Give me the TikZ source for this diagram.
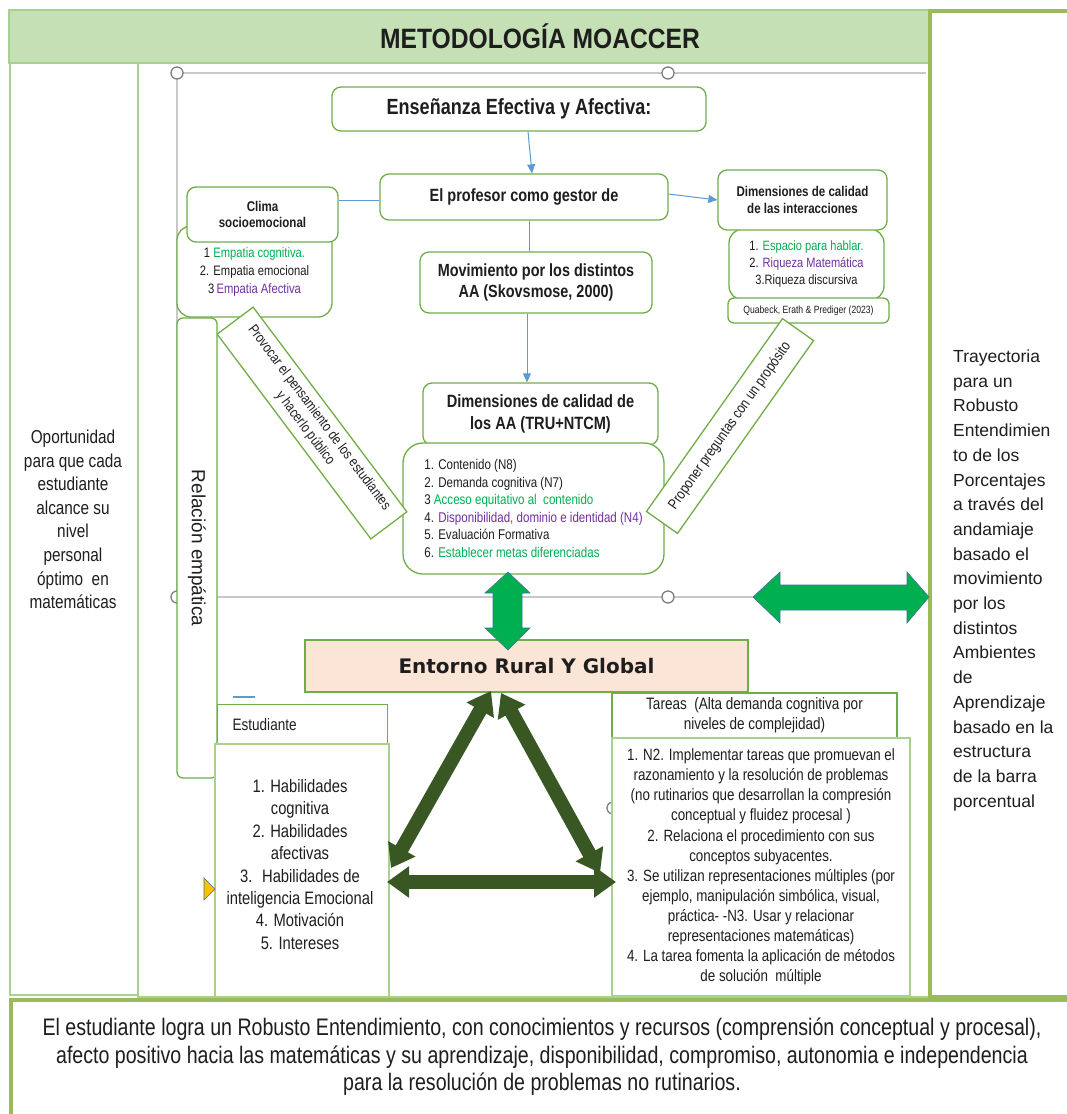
\documentclass[tikz,border=0pt]{standalone}
\usepackage{fontspec}
\setmainfont{Liberation Sans}
\newfontfamily\nar[FakeStretch=0.82]{Liberation Sans}
\newfontfamily\ttl[FakeStretch=0.88]{Liberation Sans}
\newfontfamily\verd{DejaVu Sans}
\usetikzlibrary{arrows.meta,calc}

\definecolor{ink}{HTML}{1E1E1E}
\definecolor{boxgreen}{HTML}{70AD47}
\definecolor{softgreen}{HTML}{A9D18E}
\definecolor{titlefill}{HTML}{C5E0B4}
\definecolor{olivegreen}{HTML}{9BBB59}
\definecolor{peach}{HTML}{FBE5D6}
\definecolor{brightgreen}{HTML}{00B050}
\definecolor{deepgreen}{HTML}{385723}
\definecolor{skyblue}{HTML}{5B9BD5}
\definecolor{edgeblue}{HTML}{41719C}
\definecolor{handlegray}{HTML}{C8C8C8}
\definecolor{knobgray}{HTML}{808080}
\definecolor{txtgreen}{HTML}{00B050}
\definecolor{txtpurple}{HTML}{7030A0}
\definecolor{amber}{HTML}{FFC000}

\newcommand\setfs[2]{\fontsize{#1}{#2}\selectfont}
\newcommand\ingreen[1]{\textcolor{txtgreen}{#1}}
\newcommand\inpurple[1]{\textcolor{txtpurple}{#1}}

\tikzset{
  every node/.style={inner sep=0pt, text=ink},
  rbox/.style={draw=boxgreen, line width=1.3pt, fill=white, rounded corners=9pt},
  sqbox/.style={draw=boxgreen, line width=1.3pt, fill=white},
  palebox/.style={draw=softgreen, line width=1.3pt, fill=white},
  paleframe/.style={draw=softgreen, line width=1.3pt},
  heavyframe/.style={draw=olivegreen, line width=4.5pt, fill=white},
  handle/.style={draw=handlegray, line width=1.6pt},
  knob/.style={circle, draw=knobgray, line width=1.3pt, fill=white, minimum size=12pt},
  flow/.style={draw=skyblue, line width=1pt},
  flowarrow/.style={flow, -{Triangle[length=9pt,width=8pt]}},
  bigarrow/.style={fill=brightgreen, draw=edgeblue, line width=0.6pt},
  linkarrow/.style={draw=deepgreen, line width=14pt,
    {Triangle[length=22pt,width=30pt]}-{Triangle[length=22pt,width=30pt]}},
}

\begin{document}
\begin{tikzpicture}[x=1pt,y=-1pt]
\useasboundingbox (0,0) rectangle (1067,1114);
\fill[white] (0,0) rectangle (1067,1114);

% frame of the central area and title bar
\node[paleframe, minimum width=792, minimum height=934] (stage) at (534,530) {};
\node[draw=softgreen, line width=1.5pt, fill=titlefill, minimum width=1062, minimum height=53,
      font=\ttl\bfseries\setfs{28}{30}] (title) at (540,36.5) {METODOLOGÍA MOACCER};

% left column
\node[paleframe, minimum width=128, minimum height=932] (opbox) at (74,529) {};
\node[font=\nar\setfs{18.7}{23.6}, align=center] (optext) at (73,519.5)
  {Oportunidad\\para que cada\\estudiante\\alcance su\\nivel\\personal\\óptimo~ en\\matemáticas};

% selection handles
\draw[handle] (177,73) -- (926,73);
\draw[handle] (177,73) -- (177,600);
\draw[handle] (177,597) -- (755,597);
\node[knob] (k1) at (177,73) {};
\node[knob] (k2) at (668,73) {};
\node[knob] (k3) at (177,597) {};
\node[knob] (k4) at (668,597) {};
\node[knob] (k5) at (613,808) {};

% upper blocks
\node[rbox, rounded corners=14pt, minimum width=155, minimum height=91, align=center,
      font=\nar\setfs{13.7}{18}] (climalist) at (254.5,271.5)
  {1 \ingreen{Empatia cognitiva.}\\2. Empatia emocional\\3\,\inpurple{Empatia Afectiva}};
\node[rbox, minimum width=151, minimum height=55, align=center,
      font=\nar\bfseries\setfs{14.1}{16.5}] (clima) at (262.5,214.5) {Clima\\socioemocional};

\node[rbox, rounded corners=14pt, minimum width=155, minimum height=71, align=center,
      font=\nar\setfs{13.5}{17}] (interlist) at (806.5,264.5)
  {1. \ingreen{Espacio para hablar.}\\2. \inpurple{Riqueza Matemática}\\3.Riqueza discursiva};
\node[rbox, minimum width=169, minimum height=60, align=center,
      font=\nar\bfseries\setfs{14.1}{17}] (diminter) at (802.5,200) {Dimensiones de calidad\\de las interacciones};
\node[rbox, rounded corners=6pt, minimum width=161, minimum height=25,
      font=\nar\setfs{10.5}{12}] (quabeck) at (808.5,310.5) {Quabeck, Erath \& Prediger (2023)};

\node[rbox, minimum width=374, minimum height=44, font=\nar\bfseries\setfs{22}{24}] (ens) at (519,109)
  {Enseñanza Efectiva y Afectiva:};
\node[rbox, minimum width=288, minimum height=46, font=\nar\bfseries\setfs{17.7}{20}] (prof) at (524,197)
  {El profesor como gestor de};
\node[rbox, minimum width=232, minimum height=61, align=center,
      font=\nar\bfseries\setfs{17.6}{21}] (mov) at (536,282.5) {Movimiento por los distintos\\AA (Skovsmose, 2000)};
\node[rbox, minimum width=235, minimum height=62, align=center,
      font=\nar\bfseries\setfs{17.8}{22}] (dimaa) at (540.5,414) {Dimensiones de calidad de\\los AA (TRU+NTCM)};
\node[rbox, rounded corners=20pt, minimum width=261, minimum height=131, align=left,
      font=\nar\setfs{14.1}{17.6}] (aalist) at (533.5,508.5)
  {1. Contenido (N8)\\2. Demanda cognitiva (N7)\\3 \ingreen{Acceso equitativo al~ contenido}\\
   4. \inpurple{Disponibilidad, dominio e identidad (N4)}\\5. Evaluación Formativa\\
   6. \ingreen{Establecer metas diferenciadas}};

% connectors of the upper chain
\draw[flowarrow] ($(ens.south)+(9,0)$) -- ($(prof.north)+(8,0)$);
\draw[flow] ($(prof.south)+(5,0)$) -- ($(mov.north)+(-7,0)$);
\draw[flowarrow] ($(mov.south)+(-9,0)$) -- ($(dimaa.north)+(-13.5,0)$);
\draw[flowarrow] ($(prof.east)+(0,-3)$) -- (diminter.west);
\draw[flow] ($(prof.west)+(0,3)$) -- ($(prof.west -| clima.east)+(0,3)$);

% slanted practice boxes and the side band
\node[sqbox, rotate=-53.1, minimum width=256, minimum height=45, align=center,
      font=\nar\setfs{14.3}{17.5}] (provocar) at (312,423)
  {Provocar el pensamiento de los estudiantes\\y hacerlo público};
\node[sqbox, rotate=54.8, minimum width=236, minimum height=38,
      font=\nar\setfs{14.8}{16}] (proponer) at (730,426) {Proponer preguntas con un propósito};
\node[rbox, rounded corners=6pt, rotate=-90, minimum width=460, minimum height=40,
      font=\setfs{19}{22}] (relacion) at (197,548) {Relación empática};

% environment
\node[draw=boxgreen, line width=1.3pt, fill=peach, minimum width=443, minimum height=52,
      font=\verd\bfseries\setfs{20}{22}] (entorno) at (526.5,666) {Entorno Rural Y Global};
\filldraw[bigarrow] (508,572) -- (530,593) -- (522,593) -- (522,628) -- (530,628) -- (508,650)
  -- (485,628) -- (493,628) -- (493,593) -- (485,593) -- cycle;

% student and task blocks
\node[sqbox, minimum width=170, minimum height=39, anchor=north west, align=left, text width=140,
      inner xsep=15pt, font=\nar\setfs{16.5}{19}] (esthead) at (217,704) {Estudiante};
\node[palebox, minimum width=174, minimum height=253] (estlist) at (302,870.5) {};
\node[font=\nar\setfs{18}{22.4}, align=center] (estlisttext) at (300,864.4)
  {1. Habilidades\\cognitiva\\2. Habilidades\\afectivas\\3.~ Habilidades de\\inteligencia Emocional\\4. Motivación\\5. Intereses};

\node[sqbox, minimum width=285, minimum height=45, align=center,
      font=\nar\setfs{16.5}{20}] (tareashead) at (754.5,715.5)
  {Tareas~ (Alta demanda cognitiva por\\niveles de complejidad)};
\node[palebox, minimum width=298, minimum height=258, align=center,
      font=\nar\setfs{16.3}{20.1}] (tareaslist) at (761,867)
  {1. N2. Implementar tareas que promuevan el\\razonamiento y la resolución de problemas\\
   (no rutinarios que desarrollan la compresión\\conceptual y fluidez procesal )\\
   2. Relaciona el procedimiento con sus\\conceptos subyacentes.\\
   3. Se utilizan representaciones múltiples (por\\ejemplo, manipulación simbólica, visual,\\
   práctica- -N3. Usar y relacionar\\representaciones matemáticas)\\
   4. La tarea fomenta la aplicación de métodos\\de solución~ múltiple};

% triangle of relations
\coordinate (apexL) at (491,691);
\coordinate (footL) at (391,868);
\coordinate (apexR) at (501,693);
\coordinate (footR) at (600,873);
\coordinate (baseW) at (387,882);
\coordinate (baseE) at (616,882);
\draw[linkarrow] (apexL) -- (footL);
\draw[linkarrow] (apexR) -- (footR);
\draw[linkarrow] (baseW) -- (baseE);

\filldraw[fill=amber, draw=edgeblue, line width=0.6pt] (204,878) -- (215,889) -- (204,900) -- cycle;
\draw[skyblue, line width=1.2pt] (233,697) -- (255,697);

% right column
\node[heavyframe, minimum width=150, minimum height=986] (traybox) at (1005,504) {};
\node[font=\setfs{17.5}{24.7}, align=left, anchor=west] (traytext) at (953,580.3)
  {Trayectoria\\para un\\Robusto\\Entendimien\\to de los\\Porcentajes\\a través del\\andamiaje\\basado el\\movimiento\\por los\\distintos\\Ambientes\\de\\Aprendizaje\\basado en la\\estructura\\de la barra\\porcentual};
\filldraw[bigarrow] (753,597) -- (780,572) -- (780,585) -- (907,585) -- (907,572) -- (929,597)
  -- (907,623) -- (907,610) -- (780,610) -- (780,623) -- cycle;

% outcome band
\node[heavyframe, minimum width=1069, minimum height=125] (resultbox) at (545.5,1062.5) {};
\node[font=\nar\setfs{23.9}{27.5}, align=center] (resulttext) at (542,1057)
  {El estudiante logra un Robusto Entendimiento, con conocimientos y recursos (comprensión conceptual y procesal),\\
   afecto positivo hacia las matemáticas y su aprendizaje, disponibilidad, compromiso, autonomia e independencia\\
   para la resolución de problemas no rutinarios.};
\end{tikzpicture}
\end{document}
